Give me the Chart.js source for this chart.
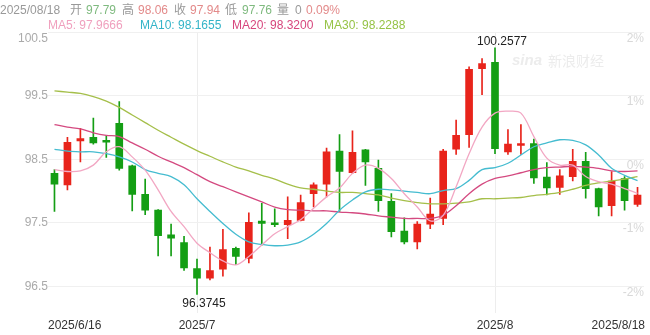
<!DOCTYPE html>
<html>
<head>
<meta charset="utf-8">
<script src="https://cdn.jsdelivr.net/npm/chart.js@4.4.1/dist/chart.umd.min.js"></script>
<style>
  html, body { margin: 0; padding: 0; background: #fff; }
  #wrap { position: relative; width: 650px; height: 335px; overflow: hidden; font-family: "Liberation Sans", Arial, "Noto Sans CJK SC", sans-serif; }
  #kline { position: absolute; left: 0; top: 0; }
  .hd { position: absolute; font-size: 12px; line-height: 14px; white-space: nowrap; }
  .g { color: #999; }
  .dn { color: #7fba7f; }
  .up { color: #e38a8a; }
</style>
</head>
<body>
<div id="wrap">
  <canvas id="kline" width="650" height="335"></canvas>
  <div class="hd g" style="left:0;top:3px">2025/08/18</div>
  <div class="hd g" style="left:70px;top:3px">开</div>
  <div class="hd dn" style="left:86px;top:3px">97.79</div>
  <div class="hd g" style="left:122px;top:3px">高</div>
  <div class="hd up" style="left:138px;top:3px">98.06</div>
  <div class="hd g" style="left:174px;top:3px">收</div>
  <div class="hd up" style="left:190px;top:3px">97.94</div>
  <div class="hd g" style="left:225px;top:3px">低</div>
  <div class="hd dn" style="left:242px;top:3px">97.76</div>
  <div class="hd g" style="left:277px;top:3px">量</div>
  <div class="hd g" style="left:295px;top:3px">0</div>
  <div class="hd up" style="left:306px;top:3px">0.09%</div>
  <div class="hd" style="left:48px;top:18px;color:#f0a0be">MA5: 97.9666</div>
  <div class="hd" style="left:140px;top:18px;color:#33b4c8">MA10: 98.1655</div>
  <div class="hd" style="left:232px;top:18px;color:#d7467d">MA20: 98.3200</div>
  <div class="hd" style="left:324px;top:18px;color:#96c346">MA30: 98.2288</div>
</div>
<script>
(function () {
  'use strict';

  // trading days shown on the chart
  var dates = [
    '2025/06/16', '2025/06/17', '2025/06/18', '2025/06/19', '2025/06/20',
    '2025/06/23', '2025/06/24', '2025/06/25', '2025/06/26', '2025/06/27', '2025/06/30',
    '2025/07/01', '2025/07/02', '2025/07/03', '2025/07/04',
    '2025/07/07', '2025/07/08', '2025/07/09', '2025/07/10', '2025/07/11',
    '2025/07/14', '2025/07/15', '2025/07/16', '2025/07/17', '2025/07/18',
    '2025/07/21', '2025/07/22', '2025/07/23', '2025/07/24', '2025/07/25',
    '2025/07/28', '2025/07/29', '2025/07/30', '2025/07/31',
    '2025/08/01', '2025/08/04', '2025/08/05', '2025/08/06', '2025/08/07', '2025/08/08',
    '2025/08/11', '2025/08/12', '2025/08/13', '2025/08/14', '2025/08/15', '2025/08/18'
  ];

  var opens = [98.28, 98.10, 98.79, 98.85, 98.80, 99.07, 98.40, 97.95, 97.70, 97.31, 97.19,
    96.78, 96.63, 96.77, 97.10, 96.94, 97.53, 97.50, 97.47, 97.54, 97.96, 98.11, 98.63,
    98.29, 98.65, 98.36, 97.84, 97.37, 97.20, 97.48, 97.57, 98.66, 98.89, 99.93,
    100.03, 98.62, 98.72, 98.75, 98.22, 98.06, 98.23, 98.47, 98.04, 97.77, 98.20, 97.79];
  var highs = [98.34, 98.85, 98.99, 99.15, 98.87, 99.41, 98.41, 98.19, 97.71, 97.48, 97.29,
    96.93, 97.12, 97.40, 97.12, 97.66, 97.81, 97.72, 97.91, 97.94, 98.13, 98.68, 98.89,
    98.95, 98.66, 98.49, 97.96, 97.58, 97.52, 97.89, 98.66, 99.12, 99.96, 100.09,
    100.2577, 98.97, 99.05, 98.82, 98.45, 98.34, 98.66, 98.61, 98.05, 98.31, 98.23, 98.06];
  var lows = [97.68, 98.02, 98.46, 98.74, 98.53, 98.33, 97.69, 97.63, 96.98, 96.98, 96.75,
    96.3745, 96.60, 96.66, 96.84, 96.87, 97.15, 97.44, 97.25, 97.53, 97.75, 97.91, 97.68,
    98.28, 98.09, 97.68, 97.28, 97.17, 97.09, 97.41, 97.47, 98.58, 98.69, 99.52,
    98.59, 98.58, 98.58, 98.12, 97.94, 97.95, 98.16, 97.89, 97.61, 97.61, 97.70, 97.76];
  var closes = [98.11, 98.77, 98.83, 98.76, 98.77, 98.36, 97.95, 97.70, 97.30, 97.26, 96.79,
    96.63, 96.75, 97.08, 96.97, 97.51, 97.49, 97.47, 97.54, 97.82, 98.10, 98.62, 98.31,
    98.61, 98.46, 97.85, 97.36, 97.20, 97.48, 97.64, 98.63, 98.88, 99.92, 100.01,
    98.67, 98.74, 98.74, 98.21, 98.05, 98.24, 98.47, 98.04, 97.75, 98.16, 97.85, 97.94];

  var ma5 = [98.34, 98.31, 98.32, 98.41, 98.62, 98.70, 98.54, 98.33, 98.02, 97.68, 97.44,
    97.18, 97.03, 96.90, 96.84, 96.97, 97.15, 97.33, 97.44, 97.55, 97.73, 97.91, 98.05,
    98.28, 98.41, 98.36, 98.20, 97.96, 97.75, 97.53, 97.62, 98.07, 98.59, 99.01,
    99.23, 99.26, 99.23, 98.86, 98.52, 98.41, 98.41, 98.23, 98.15, 98.11, 98.04, 97.9666];
  var ma10 = [98.66, 98.63, 98.62, 98.62, 98.59, 98.54, 98.46, 98.34, 98.28, 98.23, 98.10,
    97.88, 97.68, 97.49, 97.32, 97.20, 97.16, 97.14, 97.15, 97.20, 97.32, 97.49, 97.70,
    97.86, 97.99, 98.03, 98.02, 98.00, 97.98, 97.96, 98.01, 98.04, 98.17, 98.34,
    98.37, 98.44, 98.57, 98.70, 98.76, 98.81, 98.80, 98.73, 98.57, 98.36, 98.25, 98.1655];
  var ma20 = [99.05, 99.01, 98.98, 98.92, 98.88, 98.86, 98.76, 98.66, 98.55, 98.46, 98.37,
    98.26, 98.15, 98.07, 97.99, 97.91, 97.83, 97.75, 97.71, 97.70, 97.69, 97.69, 97.67,
    97.66, 97.64, 97.61, 97.59, 97.57, 97.57, 97.57, 97.62, 97.77, 97.96, 98.11,
    98.20, 98.24, 98.29, 98.34, 98.37, 98.38, 98.39, 98.38, 98.36, 98.32, 98.31, 98.32];
  var ma30 = [99.58, 99.56, 99.54, 99.49, 99.42, 99.32, 99.20, 99.08, 98.96, 98.85, 98.74,
    98.64, 98.55, 98.46, 98.38, 98.32, 98.25, 98.19, 98.11, 98.05, 98.03, 98.00, 97.98,
    97.98, 97.96, 97.94, 97.89, 97.85, 97.82, 97.80, 97.80, 97.81, 97.83, 97.88,
    97.88, 97.89, 97.90, 97.93, 97.95, 97.98, 98.03, 98.09, 98.13, 98.16, 98.19, 98.2288];

  var priceTicks = [96.5, 97.5, 98.5, 99.5, 100.5];
  var pctTicks = [-2, -1, 0, 1, 2];
  var xTickDates = ['2025/06/16', '2025/07/01', '2025/08/01', '2025/08/18'];
  var xTickTexts = ['2025/6/16', '2025/7', '2025/8', '2025/8/18'];
  var monthStarts = ['2025/07/01', '2025/08/01'];

  var priceMin = 96.08, priceMax = 100.5, pctBase = 98.5;
  var RED = '#e8241b', GREEN = '#149e14';
  var FONT = '"Liberation Sans", Arial, sans-serif';

  var candleColors = opens.map(function (o, i) { return closes[i] >= o ? RED : GREEN; });

  function findHigh() {
    var k = 0;
    highs.forEach(function (h, i) { if (h > highs[k]) k = i; });
    return k;
  }
  function findLow() {
    var k = 0;
    lows.forEach(function (l, i) { if (l < lows[k]) k = i; });
    return k;
  }

  var overlay = {
    id: 'overlay',
    beforeDatasetsDraw: function (chart) {
      var c = chart.ctx;
      c.save();
      c.fillStyle = '#ececec';
      c.font = 'italic bold 15px ' + FONT;
      c.textBaseline = 'middle';
      c.fillText('sina', 512, 61);
      c.font = '14px "Noto Sans CJK SC", sans-serif';
      c.fillText('新浪财经', 548, 61);
      c.restore();
    },
    afterDraw: function (chart) {
      var c = chart.ctx, xs = chart.scales.x, ys = chart.scales.y, area = chart.chartArea;
      c.save();
      c.font = '12px ' + FONT;
      c.textBaseline = 'middle';

      // top price label sits below its grid line
      c.fillStyle = '#aaa';
      c.textAlign = 'right';
      c.fillText('100.5', area.left, ys.getPixelForValue(100.5) + 6);

      // date labels, clamped inside the plot
      c.fillStyle = '#333';
      c.textAlign = 'left';
      xTickDates.forEach(function (d, k) {
        var t = xTickTexts[k];
        var w = c.measureText(t).width;
        var x = xs.getPixelForValue(dates.indexOf(d)) - w / 2;
        if (x < area.left) x = area.left;
        if (x + w > area.right + 1) x = area.right + 1 - w;
        c.fillText(t, x, 326);
      });

      // extreme values
      c.fillStyle = '#222';
      c.textAlign = 'center';
      var hi = findHigh(), lo = findLow();
      c.fillText(highs[hi].toFixed(4), xs.getPixelForValue(hi) + 7, ys.getPixelForValue(highs[hi]) - 6);
      c.fillText(lows[lo].toFixed(4), xs.getPixelForValue(lo) + 7, ys.getPixelForValue(lows[lo]) + 9);
      c.restore();
    }
  };

  function maLine(label, data, color) {
    return {
      type: 'line', label: label, data: data, yAxisID: 'y',
      borderColor: color, borderWidth: 1.3, pointRadius: 0, tension: 0.35,
      fill: false, order: 0
    };
  }

  new Chart(document.getElementById('kline').getContext('2d'), {
    data: {
      labels: dates,
      datasets: [
        maLine('MA5', ma5, '#f2a7c3'),
        maLine('MA10', ma10, '#45bcd0'),
        maLine('MA20', ma20, '#d44a80'),
        maLine('MA30', ma30, '#a5bf4a'),
        {
          type: 'bar', label: 'body', yAxisID: 'y', order: 1, grouped: false,
          data: opens.map(function (o, i) { return [o, closes[i]]; }),
          backgroundColor: candleColors, barThickness: 7, minBarLength: 2
        },
        {
          type: 'bar', label: 'wick', yAxisID: 'y', order: 2, grouped: false,
          data: lows.map(function (l, i) { return [l, highs[i]]; }),
          backgroundColor: candleColors, barThickness: 1
        }
      ]
    },
    options: {
      responsive: false,
      animation: false,
      layout: { padding: { top: 32.5, bottom: 22, left: 0, right: 0 } },
      plugins: { legend: { display: false }, tooltip: { enabled: false } },
      scales: {
        x: {
          type: 'category', offset: true,
          ticks: { display: false },
          border: { display: false },
          grid: {
            offset: false, drawTicks: false,
            color: function (ctx) {
              return monthStarts.indexOf(dates[ctx.index]) !== -1 ? '#ededed' : 'rgba(0,0,0,0)';
            }
          }
        },
        y: {
          position: 'left', min: priceMin, max: priceMax,
          afterBuildTicks: function (s) { s.ticks = priceTicks.map(function (v) { return { value: v }; }); },
          afterFit: function (s) { s.width = 48; },
          border: { display: false },
          grid: { color: '#f0f0f0', drawTicks: false },
          ticks: {
            color: '#aaa', padding: 0, font: { size: 12, family: FONT },
            callback: function (v) { return v === 100.5 ? '' : v.toFixed(1); }
          }
        },
        y1: {
          position: 'right', min: priceMin - pctBase, max: priceMax - pctBase,
          afterBuildTicks: function (s) { s.ticks = pctTicks.map(function (v) { return { value: v }; }); },
          afterFit: function (s) { s.width = 6; },
          border: { display: false },
          grid: { display: false, drawTicks: false },
          ticks: {
            mirror: true, padding: 0, labelOffset: 6,
            color: '#d8d8d8', font: { size: 12, family: FONT },
            callback: function (v) { return v + '%'; }
          }
        }
      }
    },
    plugins: [overlay]
  });
})();
</script>
</body>
</html>
